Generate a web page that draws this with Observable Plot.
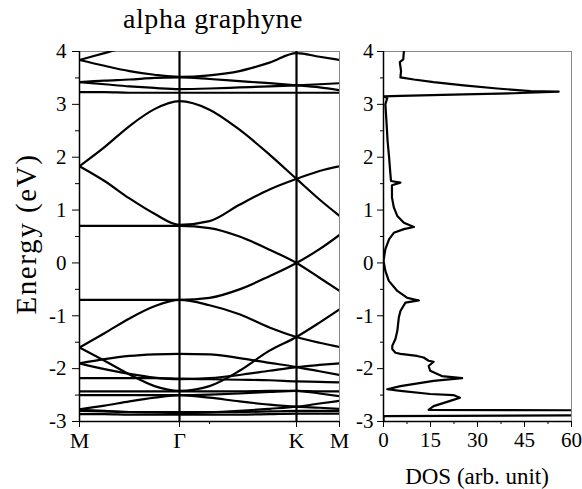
<!DOCTYPE html>
<html><head><meta charset="utf-8">
<script src="https://cdn.jsdelivr.net/npm/d3@7"></script>
<script src="https://cdn.jsdelivr.net/npm/@observablehq/plot@0.6"></script>
<style>
body{margin:0;background:#fff;}
#wrap{position:relative;width:582px;height:489px;overflow:hidden;background:#fff;}
#wrap svg{position:absolute;top:0;}
</style></head><body><div id="wrap"></div>
<script>
// ---- text ----
const titleText = "alpha graphyne";
const yLabelText = "Energy (eV)";
const dosLabelText = "DOS (arb. unit)";

// ---- band-structure path ----
const kPoints = [0, 0.25, 0.5, 0.75, 1.0, 1.3, 1.6, 1.9, 2.17, 2.4, 2.6];
const kTicks = [0, 1.0, 2.17, 2.6];
const kLabels = ["M", "Γ", "K", "M"];
const kMinorTicks = [1.3];
const symLines = [1.0, 2.17];
const eTicks = [-3, -2, -1, 0, 1, 2, 3, 4];
const eMinorTicks = [-2.5, -1.5, -0.5, 0.5, 1.5, 2.5, 3.5];

// ---- bands (energy in eV at each kPoint) ----
const bandU5 = [3.84, 3.97, 4.10, 4.20, 4.25, 4.25, 4.20, 4.12, 4.05, 4.10, 4.15];
const bandU4 = [3.84, 3.73, 3.63, 3.56, 3.52, 3.55, 3.63, 3.79, 3.97, 3.90, 3.84];
const bandU2 = [3.42, 3.45, 3.47, 3.50, 3.51, 3.48, 3.44, 3.40, 3.36, 3.32, 3.27];
const bandU3 = [3.42, 3.38, 3.34, 3.31, 3.29, 3.30, 3.32, 3.34, 3.36, 3.38, 3.40];
const bandU1 = [3.23, 3.23, 3.22, 3.22, 3.22, 3.22, 3.22, 3.22, 3.22, 3.22, 3.22];
const bandA = [1.83, 2.19, 2.59, 2.91, 3.06, 2.90, 2.52, 2.05, 1.59, 1.20, 0.89];
const bandB = [1.83, 1.55, 1.22, 0.93, 0.72, 0.79, 1.10, 1.39, 1.59, 1.74, 1.83];
const bandC = [0.70, 0.70, 0.70, 0.70, 0.70, 0.66, 0.50, 0.25, 0.0, -0.28, -0.53];
const bandD = [-0.70, -0.70, -0.70, -0.70, -0.70, -0.66, -0.50, -0.25, 0.0, 0.26, 0.53];
const bandE = [-1.60, -1.33, -1.05, -0.82, -0.70, -0.80, -0.97, -1.22, -1.40, -1.51, -1.59];
const bandF = [-1.60, -1.85, -2.11, -2.33, -2.42, -2.33, -2.04, -1.66, -1.40, -1.13, -0.88];
const bandG = [-1.90, -1.82, -1.76, -1.73, -1.72, -1.73, -1.80, -1.89, -1.97, -2.05, -2.12];
const bandH = [-1.90, -2.01, -2.10, -2.17, -2.20, -2.18, -2.12, -2.04, -1.97, -1.93, -1.90];
const bandI = [-2.18, -2.18, -2.18, -2.18, -2.19, -2.20, -2.21, -2.22, -2.24, -2.25, -2.26];
const bandJ = [-2.43, -2.43, -2.43, -2.43, -2.43, -2.43, -2.43, -2.42, -2.42, -2.43, -2.43];
const bandK = [-2.50, -2.50, -2.50, -2.50, -2.50, -2.49, -2.47, -2.44, -2.42, -2.47, -2.52];
const bandL = [-2.77, -2.70, -2.62, -2.55, -2.50, -2.55, -2.62, -2.68, -2.72, -2.74, -2.76];
const bandN = [-2.78, -2.80, -2.82, -2.83, -2.84, -2.83, -2.80, -2.76, -2.72, -2.66, -2.61];
const bandP = [-2.80, -2.81, -2.82, -2.82, -2.82, -2.82, -2.82, -2.81, -2.80, -2.80, -2.80];
const bandO = [-2.86, -2.86, -2.87, -2.87, -2.87, -2.87, -2.87, -2.86, -2.85, -2.85, -2.85];

// ---- DOS curve ----
const dosEnergy = [4.00, 3.85, 3.80, 3.63, 3.51, 3.47, 3.42, 3.36, 3.30, 3.25, 3.24, 3.21, 3.19, 3.16, 3.15,
  3.12, 3.00, 2.62, 2.31, 1.99, 1.68, 1.55, 1.52, 1.47, 1.24, 1.05, 0.89, 0.76, 0.68, 0.64,
  0.57, 0.45, 0.26, 0.04, -0.15, -0.34, -0.53, -0.66, -0.71, -0.75, -0.91, -1.03, -1.29, -1.44, -1.57,
  -1.63, -1.70, -1.72, -1.76, -1.79, -1.85, -1.87, -1.95, -2.04, -2.14, -2.18, -2.23, -2.33, -2.39, -2.42,
  -2.48, -2.50, -2.55, -2.61, -2.71, -2.78, -2.79, -2.88, -2.90, -3.00];
const dosValue = [6.5, 6.3, 5.2, 5.6, 5.4, 9.7, 16.0, 25.6, 36.3, 46.9, 55.9, 41.6, 25.6, 5.4, 0.1,
  1.2, 0.6, 1.0, 1.3, 1.8, 2.2, 2.4, 5.4, 2.7, 2.7, 3.3, 4.4, 6.5, 9.7, 6.5,
  3.3, 1.8, 0.6, 0.0, 0.6, 1.7, 4.4, 7.6, 11.3, 7.0, 5.4, 4.9, 4.4, 3.8, 2.8,
  2.8, 3.8, 5.4, 10.7, 12.8, 14.4, 16.0, 14.4, 14.9, 18.6, 25.1, 16.0, 5.4, 1.2, 5.4,
  14.9, 22.3, 24.4, 21.3, 16.0, 14.4, 80, 80, 0.0, 0.0];
const dosTicks = [0, 15, 30, 45, 60];
const dosMinorTicks = [7.5, 22.5, 37.5, 52.5];

// ---- build tables ----
const bandList = [bandU5, bandU4, bandU2, bandU3, bandU1, bandA, bandB, bandC, bandD, bandE,
  bandF, bandG, bandH, bandI, bandJ, bandK, bandL, bandN, bandP, bandO];
const bandRows = bandList.flatMap((b, i) => b.map((e, j) => ({k: kPoints[j], e, band: i})));
const dosRows = dosEnergy.map((e, i) => ({e, v: dosValue[i]}));

const font = "'Liberation Serif', 'Times New Roman', serif";
const baseStyle = {fontFamily: font, fontSize: "21px", color: "#000", background: "transparent", overflow: "visible"};

const left = Plot.plot({
  width: 345, height: 489,
  marginLeft: 79, marginRight: 6, marginTop: 51, marginBottom: 68,
  style: baseStyle,
  x: {domain: [0, 2.6], label: null},
  y: {domain: [-3, 4], label: null},
  marks: [
    Plot.frame({stroke: "#888", strokeWidth: 1}),
    Plot.ruleX(symLines, {stroke: "#000", strokeWidth: 2.2}),
    Plot.line(bandRows, {x: "k", y: "e", z: "band", curve: "monotone-x", stroke: "#000", strokeWidth: 2.2, clip: true}),
    Plot.axisY({ticks: eTicks, tickSize: 7, tickPadding: 6, tickFormat: d => String(d), fontSize: 21}),
    Plot.axisY({ticks: eMinorTicks, tickSize: 4, tickFormat: () => ""}),
    Plot.axisX({ticks: kTicks, tickSize: 6, tickPadding: 5, tickFormat: d => kLabels[kTicks.indexOf(d)], fontSize: 22}),
    Plot.axisX({ticks: kMinorTicks, tickSize: 3, tickFormat: () => ""}),
    Plot.ruleX([0], {stroke: "#000", strokeWidth: 1.5}),
    Plot.ruleY([-3], {stroke: "#000", strokeWidth: 1.5})
  ]
});

const right = Plot.plot({
  width: 237, height: 489,
  marginLeft: 38, marginRight: 11, marginTop: 51, marginBottom: 68,
  style: baseStyle,
  x: {domain: [0, 60], label: null},
  y: {domain: [-3, 4], label: null},
  marks: [
    Plot.frame({stroke: "#888", strokeWidth: 1}),
    Plot.line(dosRows, {x: "v", y: "e", stroke: "#000", strokeWidth: 2.2, clip: true}),
    Plot.axisY({ticks: eTicks, tickSize: 6, tickPadding: 4, tickFormat: d => String(d), fontSize: 21}),
    Plot.axisY({ticks: eMinorTicks, tickSize: 3, tickFormat: () => ""}),
    Plot.axisX({ticks: dosTicks, tickSize: 6, tickPadding: 5, tickFormat: d => String(d), fontSize: 21}),
    Plot.axisX({ticks: dosMinorTicks, tickSize: 3, tickFormat: () => ""}),
    Plot.ruleX([0], {stroke: "#000", strokeWidth: 1.5}),
    Plot.ruleY([-3], {stroke: "#000", strokeWidth: 1.5})
  ]
});

left.style.left = "0px";
right.style.left = "345px";
const wrap = document.getElementById("wrap");
wrap.appendChild(left);
wrap.appendChild(right);

d3.select(left).append("text")
  .attr("x", 213).attr("y", 28).attr("text-anchor", "middle")
  .style("font-family", font).style("font-size", "28px").style("letter-spacing", "0.6px").attr("fill", "#000")
  .text(titleText);
d3.select(left).append("text")
  .attr("transform", "translate(36,234) rotate(-90)").attr("text-anchor", "middle")
  .style("font-family", font).style("font-size", "29px").style("letter-spacing", "1.6px").attr("fill", "#000")
  .text(yLabelText);
d3.select(right).append("text")
  .attr("x", 132).attr("y", 484).attr("text-anchor", "middle")
  .style("font-family", font).style("font-size", "23px").attr("fill", "#000")
  .text(dosLabelText);
</script></body></html>
